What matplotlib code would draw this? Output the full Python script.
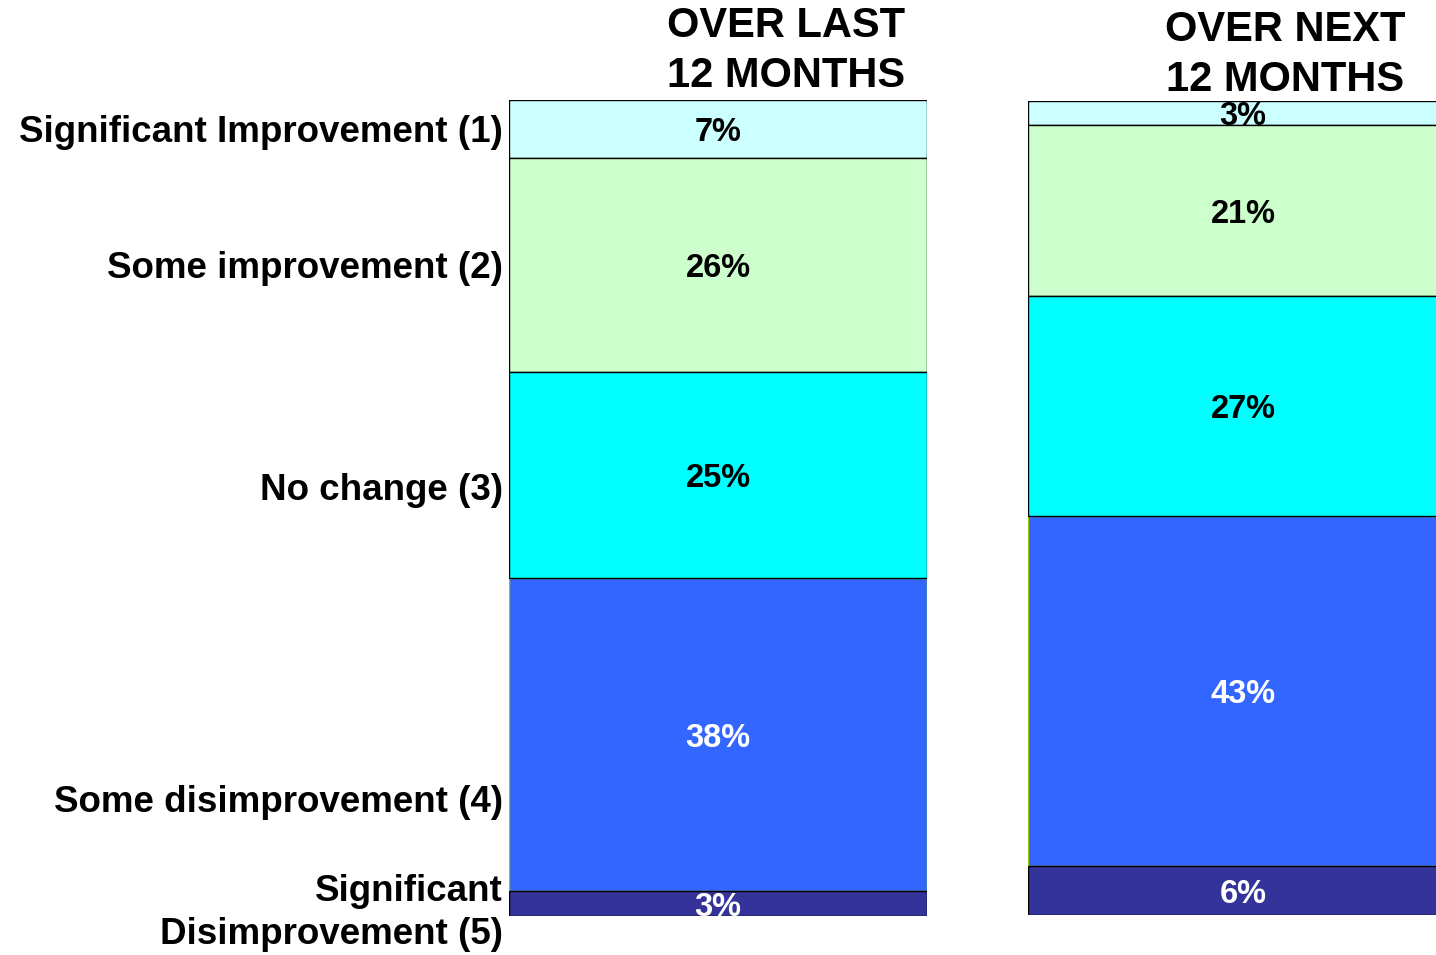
"""Two stacked 100% bars: change over last / next 12 months."""
import matplotlib

matplotlib.use("Agg")
import matplotlib.pyplot as plt  # noqa: E402

plt.rcParams["font.family"] = ["Liberation Sans", "DejaVu Sans"]
plt.rcParams["font.weight"] = "bold"

categories = [
    "Significant Improvement (1)",
    "Some improvement (2)",
    "No change (3)",
    "Some disimprovement (4)",
    "Significant\nDisimprovement (5)",
]
last_12 = [7, 26, 25, 38, 3]
next_12 = [3, 21, 27, 43, 6]
titles = ["OVER LAST\n12 MONTHS", "OVER NEXT\n12 MONTHS"]

fills = ["#CCFFFF", "#CCFFCC", "#00FFFF", "#3366FF", "#333399"]
edges = ["black", "black", "black", "#99CC00", "black"]
text_colors = ["black", "black", "black", "white", "white"]

W, H = 1436, 955
fig = plt.figure(figsize=(W / 100, H / 100), dpi=100)


def px_axes(x0, x1, y0, y1):
    return fig.add_axes([x0 / W, 1 - y1 / H, (x1 - x0) / W, (y1 - y0) / H])


def stacked(ax, values):
    total = sum(values)
    top = total
    for v, fc, ec, tc in zip(values, fills, edges, text_colors):
        bottom = top - v
        ax.bar(0, v, bottom=bottom, width=1.0, color=fc, edgecolor=ec,
               linewidth=1.0, zorder=2 if ec == "black" else 1)
        ax.annotate(f"{v}%", xy=(0, bottom + v / 2), xytext=(0, -2.5),
                    textcoords="offset points", ha="center", va="center",
                    fontsize=23.5, fontweight="bold", color=tc, zorder=3)
        top = bottom
    ax.set_xlim(-0.5, 0.5)
    ax.set_ylim(0, total)
    ax.axis("off")


ax1 = px_axes(509, 927, 100, 916)
stacked(ax1, last_12)
ax2 = px_axes(1028, 1458, 101, 915)
stacked(ax2, next_12)

fig.text(786 / W, 1 - 51 / H, titles[0], ha="center", va="center",
         fontsize=30, fontweight="bold", linespacing=1.33)
fig.text(1285 / W, 1 - 55 / H, titles[1], ha="center", va="center",
         fontsize=30, fontweight="bold", linespacing=1.33)

label_y = [132, 268, 490, 802, 913]
for name, y in zip(categories, label_y):
    fig.text(503 / W, 1 - y / H, name, ha="right", va="center",
             fontsize=26.5, fontweight="bold", linespacing=1.27)

fig.savefig("out.png", dpi=100)
